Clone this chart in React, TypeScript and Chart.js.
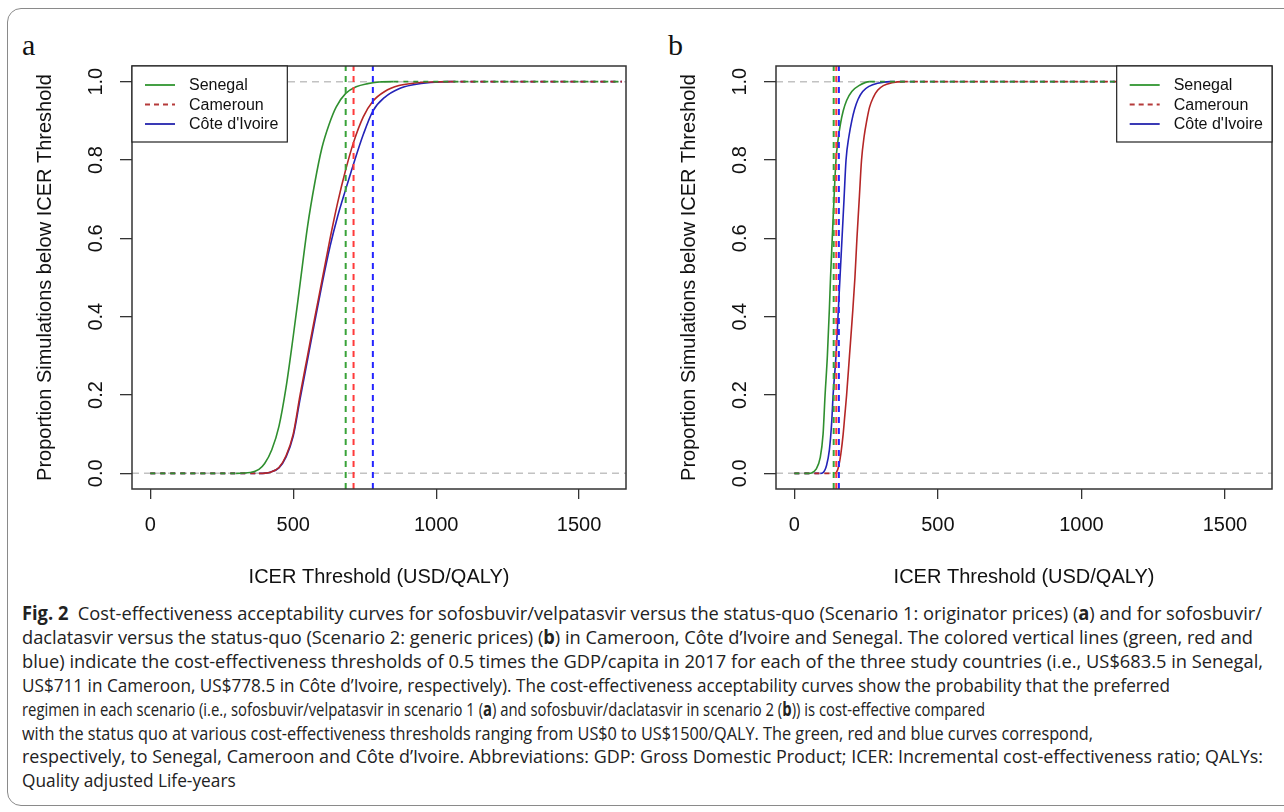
import React, { useEffect, useLayoutEffect, useRef } from "react";
import { Chart, registerables } from "chart.js";

Chart.register(...registerables);

// ---------------- data ----------------
const countries = ["Senegal", "Cameroun", "Côte d'Ivoire"];
const xTicks = [0, 500, 1000, 1500];
const yTicks = [0, 0.2, 0.4, 0.6, 0.8, 1.0];
const X_MIN = -64;
const X_MAX = 1664;
const Y_MIN = -0.04;
const Y_MAX = 1.04;

// panel a : thresholds (USD/QALY)
const thresholdsA = [683.5, 711, 778.5];
// panel b : thresholds as drawn
const thresholdsB = [137, 146, 155];

// panel a curves
const aSenegalX = [0, 300, 350, 380, 400, 425, 450, 475, 500, 525, 550, 575, 600, 625, 650, 683.5, 720, 760, 800, 850, 1650];
const aSenegalY = [0, 0, 0.002, 0.01, 0.025, 0.06, 0.12, 0.22, 0.35, 0.49, 0.63, 0.74, 0.83, 0.89, 0.935, 0.97, 0.987, 0.995, 0.999, 1, 1];
const aCamerounX = [0, 380, 420, 450, 475, 500, 524, 550, 576, 600, 629, 655, 683.5, 711, 745, 778.5, 820, 870, 920, 980, 1050, 1650];
const aCamerounY = [0, 0, 0.003, 0.015, 0.045, 0.1, 0.2, 0.3, 0.4, 0.49, 0.6, 0.69, 0.775, 0.845, 0.91, 0.95, 0.975, 0.99, 0.996, 0.999, 1, 1];
const aIvoireX = [0, 380, 420, 450, 475, 500, 524, 550, 576, 600, 629, 655, 683.5, 711, 745, 778.5, 820, 870, 920, 980, 1050, 1650];
const aIvoireY = [0, 0, 0.003, 0.014, 0.042, 0.095, 0.19, 0.29, 0.39, 0.48, 0.58, 0.655, 0.725, 0.79, 0.865, 0.925, 0.96, 0.982, 0.992, 0.998, 1, 1];

// panel b curves
const bSenegalX = [0, 50, 60, 75, 90, 100, 107, 115, 122, 126, 132, 138, 145, 152, 160, 170, 182, 200, 225, 263, 1650];
const bSenegalY = [0, 0, 0.001, 0.01, 0.04, 0.1, 0.2, 0.3, 0.42, 0.5, 0.6, 0.7, 0.8, 0.85, 0.89, 0.925, 0.952, 0.975, 0.99, 1, 1];
const bCamerounX = [0, 140, 147, 155, 162, 170, 176, 182, 192, 202, 211, 218, 226, 234, 243, 252, 262, 275, 290, 310, 340, 378, 1650];
const bCamerounY = [0, 0, 0.003, 0.02, 0.05, 0.1, 0.15, 0.2, 0.3, 0.4, 0.5, 0.6, 0.7, 0.8, 0.86, 0.9, 0.935, 0.96, 0.978, 0.99, 0.997, 1, 1];
const bIvoireX = [0, 90, 100, 112, 122, 130, 135, 145, 152, 159, 166, 173, 180, 190, 200, 210, 222, 238, 260, 290, 333, 1650];
const bIvoireY = [0, 0, 0.002, 0.02, 0.06, 0.13, 0.2, 0.3, 0.4, 0.5, 0.6, 0.7, 0.8, 0.86, 0.9, 0.93, 0.955, 0.975, 0.988, 0.996, 1, 1];

const captionLines: React.ReactNode[] = [
  <>
    <b>Fig. 2</b>{"  Cost-effectiveness acceptability curves for sofosbuvir/velpatasvir versus the status-quo (Scenario 1: originator prices) ("}<b>a</b>{") and for sofosbuvir/"}
  </>,
  <>
    {"daclatasvir versus the status-quo (Scenario 2: generic prices) ("}<b>b</b>{") in Cameroon, Côte d’Ivoire and Senegal. The colored vertical lines (green, red and"}
  </>,
  <>{"blue) indicate the cost-effectiveness thresholds of 0.5 times the GDP/capita in 2017 for each of the three study countries (i.e., US$683.5 in Senegal,"}</>,
  <>{"US$711 in Cameroon, US$778.5 in Côte d’Ivoire, respectively). The cost-effectiveness acceptability curves show the probability that the preferred"}</>,
  <>
    {"regimen in each scenario (i.e., sofosbuvir/velpatasvir in scenario 1 ("}<b>a</b>{") and sofosbuvir/daclatasvir in scenario 2 ("}<b>b</b>{")) is cost-effective compared"}
  </>,
  <>{"with the status quo at various cost-effectiveness thresholds ranging from US$0 to US$1500/QALY. The green, red and blue curves correspond,"}</>,
  <>{"respectively, to Senegal, Cameroon and Côte d’Ivoire. Abbreviations: GDP: Gross Domestic Product; ICER: Incremental cost-effectiveness ratio; QALYs:"}</>,
  <>{"Quality adjusted Life-years"}</>,
];
// printed widths of the caption lines (px); 0 = use the average scale
const captionWidths = [1240, 1231, 1241, 1148, 963, 1071, 1241, 0];

// ---------------- styles ----------------
const FONT = '"Liberation Sans", Arial, Helvetica, sans-serif';
const curveColors = ["#2f8f2f", "#b52626", "#2323b8"];
const vlineColors = ["#39a339", "#ff3b3b", "#2424ff"];
const legendColors = ["#45a045", "#b53a3a", "#3a3ab5"];
const legendDash = [[], [5, 4], []];

type Curve = { xs: number[]; ys: number[] };

function buildDatasets(curves: Curve[], thresholds: number[]) {
  const ds: any[] = [];
  thresholds.forEach((t, i) => {
    ds.push({
      label: "threshold " + countries[i],
      data: [
        { x: t, y: Y_MIN },
        { x: t, y: Y_MAX },
      ],
      borderColor: vlineColors[i],
      borderDash: [6, 5],
      borderWidth: 2,
      pointRadius: 0,
      order: 1,
    });
  });
  curves.forEach((c, i) => {
    ds.push({
      label: countries[i],
      data: c.xs.map((x, k) => ({ x, y: c.ys[k] })),
      borderColor: curveColors[i],
      borderWidth: 1.6,
      pointRadius: 0,
      cubicInterpolationMode: "monotone",
      order: 2,
      segment: {
        borderDash: (ctx: any) => {
          const y0 = ctx.p0.parsed.y;
          const y1 = ctx.p1.parsed.y;
          return y0 === y1 && (y0 === 0 || y0 === 1) ? [5, 5] : undefined;
        },
      },
    });
  });
  [0, 1].forEach((v) => {
    ds.push({
      label: "ref " + v,
      data: [
        { x: X_MIN, y: v },
        { x: X_MAX, y: v },
      ],
      borderColor: "#c2c2c2",
      borderDash: [7, 5],
      borderWidth: 1.5,
      pointRadius: 0,
      order: 3,
    });
  });
  return ds;
}

function makePlugin(corner: "left" | "right") {
  return {
    id: "rbox",
    afterDatasetsDraw(chart: any) {
      const { ctx, chartArea } = chart;
      ctx.save();
      ctx.strokeStyle = "#333";
      ctx.lineWidth = 1.5;
      ctx.setLineDash([]);
      ctx.strokeRect(chartArea.left, chartArea.top, chartArea.width, chartArea.height);

      // legend
      ctx.font = `16px ${FONT}`;
      const textW = Math.max(...countries.map((c) => ctx.measureText(c).width));
      const w = 13 + 30 + 14 + textW + 9;
      const h = 76;
      const x0 = corner === "left" ? chartArea.left : chartArea.right - w;
      const y0 = chartArea.top;
      ctx.fillStyle = "#fff";
      ctx.fillRect(x0, y0, w, h);
      ctx.strokeStyle = "#222";
      ctx.lineWidth = 1.2;
      ctx.strokeRect(x0, y0, w, h);
      countries.forEach((c, i) => {
        const y = y0 + 19 + i * 19.5;
        ctx.beginPath();
        ctx.setLineDash(legendDash[i]);
        ctx.strokeStyle = legendColors[i];
        ctx.lineWidth = 2;
        ctx.moveTo(x0 + 13, y);
        ctx.lineTo(x0 + 43, y);
        ctx.stroke();
        ctx.setLineDash([]);
        ctx.fillStyle = "#111";
        ctx.textBaseline = "middle";
        ctx.textAlign = "left";
        ctx.fillText(c, x0 + 57, y + 1);
      });
      ctx.restore();
    },
  };
}

function Panel(props: {
  left: number;
  curves: Curve[];
  thresholds: number[];
  corner: "left" | "right";
  padRight: number;
}) {
  const ref = useRef<HTMLCanvasElement | null>(null);
  useEffect(() => {
    if (!ref.current) return;
    const chart = new Chart(ref.current, {
      type: "line",
      data: { datasets: buildDatasets(props.curves, props.thresholds) },
      plugins: [makePlugin(props.corner)],
      options: {
        animation: false,
        responsive: false,
        devicePixelRatio: 1,
        layout: { padding: { top: 46, right: props.padRight, left: 0, bottom: 0 } },
        plugins: { legend: { display: false }, tooltip: { enabled: false } },
        scales: {
          x: {
            type: "linear",
            min: X_MIN,
            max: X_MAX,
            afterBuildTicks: (s: any) => {
              s.ticks = xTicks.map((v) => ({ value: v }));
            },
            afterFit: (s: any) => {
              s.height = 100;
            },
            grid: { drawOnChartArea: false, drawTicks: true, tickLength: 10, color: "#333", lineWidth: 1.3 },
            border: { display: false },
            ticks: {
              padding: 14,
              color: "#111",
              font: { family: FONT, size: 20 },
              maxRotation: 0,
              autoSkip: false,
              callback: (v: any) => String(v),
            },
            title: {
              display: true,
              text: "ICER Threshold (USD/QALY)",
              color: "#111",
              font: { family: FONT, size: 20 },
              padding: { top: 0, bottom: 0 },
            },
          },
          y: {
            type: "linear",
            min: Y_MIN,
            max: Y_MAX,
            afterBuildTicks: (s: any) => {
              s.ticks = yTicks.map((v) => ({ value: v }));
            },
            afterFit: (s: any) => {
              s.width = 112;
            },
            grid: { drawOnChartArea: false, drawTicks: true, tickLength: 12, color: "#333", lineWidth: 1.3 },
            border: { display: false },
            ticks: {
              minRotation: 90,
              maxRotation: 90,
              crossAlign: "center",
              padding: 10,
              color: "#111",
              font: { family: FONT, size: 20 },
              autoSkip: false,
              callback: (v: any) => Number(v).toFixed(1),
            },
            title: {
              display: true,
              text: "Proportion Simulations below ICER Threshold",
              color: "#111",
              font: { family: FONT, size: 20 },
              padding: { top: 13, bottom: 0 },
            },
          },
        },
      } as any,
    });
    return () => chart.destroy();
  }, []);
  return (
    <canvas
      ref={ref}
      width={620}
      height={569}
      style={{ position: "absolute", left: props.left, top: 20, width: 620, height: 569 }}
    />
  );
}

function Caption() {
  const boxRef = useRef<HTMLDivElement | null>(null);
  useLayoutEffect(() => {
    const el = boxRef.current;
    if (!el) return;
    const rows = Array.from(el.children) as HTMLElement[];
    const scales: number[] = [];
    rows.forEach((r, i) => {
      const w = r.getBoundingClientRect().width;
      if (captionWidths[i] > 0 && w > 0) scales[i] = captionWidths[i] / w;
    });
    const valid = scales.filter((s) => s > 0);
    const avg = valid.reduce((a, b) => a + b, 0) / Math.max(1, valid.length);
    rows.forEach((r, i) => {
      const k = scales[i] > 0 ? scales[i] : avg;
      r.style.transform = `scaleX(${k})`;
    });
  }, []);
  return (
    <div
      ref={boxRef}
      style={{
        position: "absolute",
        left: 22,
        top: 602,
        width: "max-content",
        fontFamily: '"Open Sans", "Noto Sans", sans-serif',
        fontSize: 19,
        lineHeight: "23.9px",
        color: "#222",
      }}
    >
      {captionLines.map((l, i) => (
        <div key={i} style={{ whiteSpace: "pre", width: "max-content", transformOrigin: "0 0" }}>
          {l}
        </div>
      ))}
    </div>
  );
}

export default function App() {
  const curvesA: Curve[] = [
    { xs: aSenegalX, ys: aSenegalY },
    { xs: aCamerounX, ys: aCamerounY },
    { xs: aIvoireX, ys: aIvoireY },
  ];
  const curvesB: Curve[] = [
    { xs: bSenegalX, ys: bSenegalY },
    { xs: bCamerounX, ys: bCamerounY },
    { xs: bIvoireX, ys: bIvoireY },
  ];
  return (
    <div
      style={{
        position: "absolute",
        left: 0,
        top: 0,
        width: 1284,
        height: 812,
        overflow: "hidden",
        background: "#fff",
      }}
    >
      <div
        style={{
          position: "absolute",
          left: 7,
          top: 8,
          width: 1310,
          height: 798,
          border: "1.5px solid #8a8a8a",
          borderRadius: 14,
          boxSizing: "border-box",
        }}
      />
      <div
        style={{
          position: "absolute",
          left: 22,
          top: 30,
          fontFamily: '"Liberation Serif", "Times New Roman", serif',
          fontSize: 30,
          lineHeight: "30px",
          color: "#111",
        }}
      >
        a
      </div>
      <div
        style={{
          position: "absolute",
          left: 668,
          top: 30,
          fontFamily: '"Liberation Serif", "Times New Roman", serif',
          fontSize: 30,
          lineHeight: "30px",
          color: "#111",
        }}
      >
        b
      </div>
      <Panel left={20} curves={curvesA} thresholds={thresholdsA} corner="left" padRight={14} />
      <Panel left={664} curves={curvesB} thresholds={thresholdsB} corner="right" padRight={12} />
      <Caption />
    </div>
  );
}
